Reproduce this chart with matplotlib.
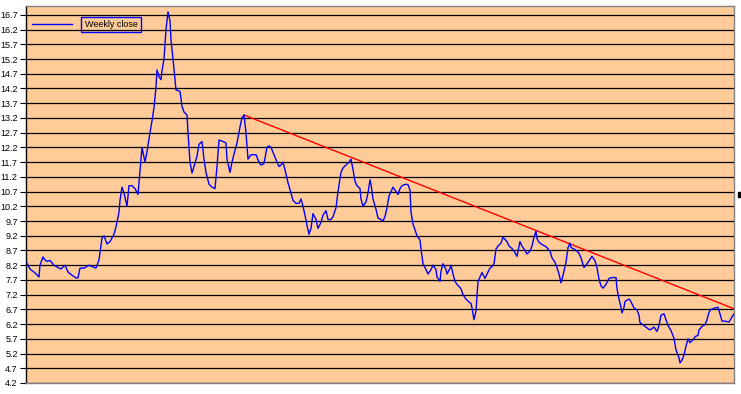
import matplotlib
matplotlib.use("Agg")
import matplotlib.pyplot as plt
from matplotlib.patches import Rectangle

plt.rcParams['font.family'] = ['Liberation Sans', 'DejaVu Sans']

# time index (arbitrary units, left to right) and weekly close
t = [0, 3, 8, 12, 13, 16, 18, 20, 23, 27, 30, 34, 38, 41, 45, 49, 51, 53, 57, 59,
     62, 66, 69, 72, 75, 77, 80, 83, 87, 89, 92, 93, 95, 97, 100, 102, 105, 108, 111, 112,
     115, 118, 120, 123, 125, 127, 129, 130, 132, 134, 135, 137, 139, 141, 143, 144, 146, 149, 153, 155,
     157, 160, 161, 163, 165, 167, 170, 172, 175, 177, 179, 182, 185, 188, 190, 192, 196, 199, 200, 203,
     205, 208, 210, 213, 215, 217, 219, 221, 224, 229, 232, 234, 237, 240, 242, 244, 247, 250, 252, 254,
     256, 259, 261, 264, 266, 269, 272, 274, 276, 278, 280, 282, 284, 286, 289, 291, 294, 296, 299, 301,
     304, 306, 309, 311, 314, 316, 319, 322, 324, 326, 328, 330, 333, 334, 336, 339, 341, 343, 344, 346,
     349, 351, 354, 356, 358, 360, 362, 364, 366, 369, 371, 373, 375, 379, 381, 383, 384, 386, 389, 390,
     393, 394, 396, 399, 401, 404, 406, 409, 410, 413, 414, 416, 419, 420, 423, 424, 426, 428, 430, 434,
     436, 439, 442, 444, 445, 447, 449, 450, 451, 453, 455, 458, 460, 463, 465, 467, 469, 471, 474, 476,
     480, 482, 484, 487, 490, 491, 493, 495, 498, 500, 503, 505, 507, 509, 510, 512, 515, 519, 521, 523,
     525, 528, 530, 532, 534, 536, 539, 541, 543, 544, 547, 550, 552, 554, 557, 559, 562, 565, 568, 570,
     572, 574, 576, 579, 582, 585, 589, 590, 592, 594, 595, 597, 598, 602, 603, 607, 610, 612, 613, 617,
     620, 623, 627, 628, 630, 632, 634, 637, 638, 641, 644, 647, 649, 652, 653, 655, 657, 659, 661, 663,
     666, 668, 671, 672, 675, 678, 680, 682, 684, 688, 691, 693, 695, 698, 702, 704, 707]
close = [8.26, 8.07, 7.94, 7.8, 8.2, 8.48, 8.38, 8.33, 8.36, 8.2, 8.14, 8.07, 8.2, 7.97, 7.86, 7.77, 7.77, 8.1, 8.1, 8.14,
         8.2, 8.14, 8.1, 8.38, 9.12, 9.2, 8.92, 9.0, 9.25, 9.5, 10.0, 10.4, 10.85, 10.65, 10.2, 10.9, 10.9, 10.8, 10.6, 11.0,
         12.2, 11.7, 12.05, 12.7, 13.1, 13.55, 14.25, 14.83, 14.6, 14.5, 14.8, 15.2, 16.2, 16.8, 16.5, 15.85, 15.2, 14.15, 14.1, 13.6,
         13.4, 13.3, 12.7, 11.7, 11.33, 11.55, 11.9, 12.3, 12.4, 11.8, 11.35, 10.95, 10.85, 10.8, 11.55, 12.45, 12.4, 12.35, 11.8, 11.35,
         11.7, 12.1, 12.35, 12.9, 13.2, 13.3, 12.7, 11.8, 11.95, 11.95, 11.7, 11.6, 11.65, 12.2, 12.25, 12.2, 11.95, 11.7, 11.55, 11.6,
         11.7, 11.3, 11.0, 10.65, 10.4, 10.3, 10.3, 10.45, 10.2, 9.9, 9.55, 9.25, 9.45, 9.95, 9.75, 9.45, 9.65, 9.9, 10.05, 9.75,
         9.75, 9.85, 10.15, 10.7, 11.35, 11.5, 11.6, 11.7, 11.8, 11.45, 11.05, 10.9, 10.8, 10.45, 10.2, 10.35, 10.65, 11.1, 10.95, 10.45,
         10.1, 9.8, 9.75, 9.7, 9.85, 10.15, 10.55, 10.7, 10.85, 10.7, 10.6, 10.8, 10.9, 10.95, 10.93, 10.75, 10.0, 9.6, 9.3, 9.2,
         9.05, 8.75, 8.25, 8.05, 7.9, 8.05, 8.2, 8.05, 7.8, 7.65, 8.0, 8.25, 8.05, 7.9, 8.1, 8.2, 7.9, 7.65, 7.55, 7.4,
         7.2, 7.05, 6.95, 6.9, 6.75, 6.35, 6.65, 7.15, 7.65, 7.8, 7.95, 7.75, 7.9, 8.1, 8.15, 8.25, 8.75, 8.85, 8.95, 9.15,
         9.0, 8.85, 8.8, 8.68, 8.5, 8.68, 9.0, 8.85, 8.7, 8.58, 8.68, 8.85, 9.15, 9.35, 9.1, 8.98, 8.9, 8.83, 8.75, 8.68,
         8.45, 8.3, 8.12, 7.9, 7.6, 7.85, 8.3, 8.8, 8.95, 8.8, 8.75, 8.68, 8.6, 8.45, 8.12, 8.2, 8.35, 8.5, 8.35, 8.12,
         7.72, 7.5, 7.42, 7.55, 7.75, 7.78, 7.78, 7.4, 7.05, 6.77, 6.58, 6.77, 6.97, 7.05, 7.02, 6.75, 6.68, 6.5, 6.25, 6.15,
         6.07, 6.0, 6.1, 6.05, 5.95, 6.15, 6.5, 6.55, 6.45, 6.15, 5.98, 5.72, 5.32, 5.05, 4.88, 4.98, 5.15, 5.45, 5.7, 5.57,
         5.66, 5.77, 5.82, 6.0, 6.12, 6.18, 6.35, 6.6, 6.7, 6.75, 6.77, 6.55, 6.3, 6.3, 6.27, 6.38, 6.55]

# resistance trend line (start at the 13.3 top, end at right edge)
trend_t = [217, 707]
trend_v = [13.3, 6.72]

yticks = [4.2 + 0.5 * k for k in range(26)]

fig = plt.figure(figsize=(7.41, 3.94), dpi=100)
ax = fig.add_axes([26 / 741, 11 / 394, 708 / 741, 377 / 394])
ax.set_facecolor('#FFCC99')

ax.set_xlim(-1, 707)
ax.set_ylim(4.2, 17.0)
ax.set_yticks(yticks)
ax.set_yticklabels(['%.1f' % v for v in yticks])
ax.set_xticks([])
ax.tick_params(axis='y', length=4, width=0.8, pad=2, labelsize=6.5)

for v in yticks:
    ax.axhline(v, color='black', lw=0.9, zorder=1)

ax.plot(trend_t, trend_v, color='red', lw=1.0, zorder=2)
ax.plot(t, close, color='blue', lw=1.0, zorder=3, label='Weekly close')

for s in ['top', 'right', 'bottom']:
    ax.spines[s].set_color('#808080')
    ax.spines[s].set_linewidth(1.0)
ax.spines['left'].set_color('black')
ax.spines['left'].set_linewidth(1.0)

leg = ax.legend(loc='upper left', bbox_to_anchor=(0.0015, 0.975), frameon=False,
                borderpad=0, handlelength=4.5, handletextpad=1.4, fontsize=6.5)
leg.get_texts()[0].set_bbox(dict(facecolor='none', edgecolor='blue', lw=1.0, pad=2.5))

# small black marker outside the plot area on the right
fig.add_artist(Rectangle((738 / 741, 1 - 197 / 394), 3 / 741, 5 / 394,
                         transform=fig.transFigure, color='black'))

fig.savefig('out.png', dpi=100)
